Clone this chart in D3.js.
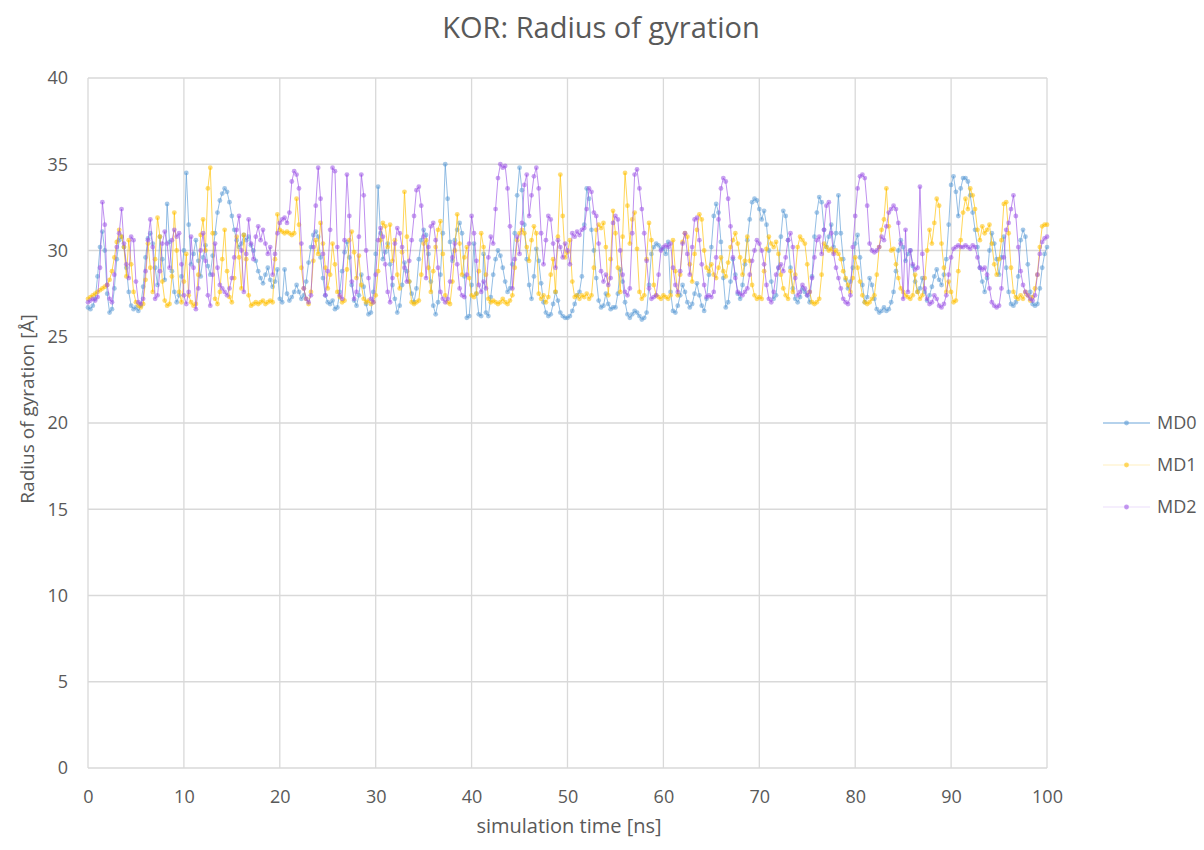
<!DOCTYPE html>
<html>
<head>
<meta charset="utf-8">
<script src="https://cdn.jsdelivr.net/npm/d3@7"></script>
<style>
  body { margin: 0; background: #fff; }
  svg { display: block; font-family: "Open Sans", "Noto Sans", sans-serif; }
</style>
</head>
<body>
<div id="chart"></div>
<script>
// Radius of gyration samples, one every 0.25 ns from 0 to 100 ns
const timeStep = 0.25;

const md0 = [
  26.7, 26.6, 26.8, 27.2, 28.5, 30.2, 31.1, 30.0, 27.5, 26.4, 26.6, 27.8, 29.5, 30.6, 30.8, 30.2, 29.0, 27.6, 26.8, 26.6,
  26.7, 26.5, 26.8, 27.9, 29.6, 30.7, 31.0, 30.4, 29.0, 28.0, 30.8, 29.5, 28.3, 32.7, 30.5, 28.8, 27.6, 27.0, 27.4, 28.5,
  30.0, 34.5, 31.5, 29.2, 29.8, 30.6, 29.4, 28.5, 29.6, 30.3, 29.1, 28.6, 29.7, 31.0, 32.2, 32.9, 33.3, 33.6, 33.4, 32.8,
  32.0, 31.2, 30.6, 30.2, 30.4, 30.9, 30.6, 30.8, 30.3, 30.0, 29.4, 28.8, 28.4, 28.1, 28.6, 29.0, 28.3, 27.9, 28.2, 28.9,
  27.2, 27.0, 28.9, 27.5, 27.1, 27.3, 27.6, 28.0, 27.6, 27.2, 27.4, 28.2, 29.3, 30.2, 30.9, 31.1, 30.8, 29.6, 28.4, 27.4,
  27.0, 26.9, 27.1, 26.6, 26.7, 27.6, 28.8, 29.9, 30.5, 29.6, 28.0, 27.1, 26.8, 27.4, 28.6, 27.9, 26.9, 26.3, 26.4, 27.6,
  29.8, 33.7, 31.0, 29.5, 29.9, 30.4, 29.2, 28.0, 27.2, 26.4, 26.8, 28.0, 29.3, 28.8, 28.2, 27.5, 27.0, 27.8, 29.5, 30.6,
  31.2, 30.9, 29.8, 28.2, 26.8, 26.3, 27.0, 28.6, 31.0, 35.0, 33.0, 30.5, 29.4, 30.6, 31.2, 31.6, 31.0, 28.5, 26.1, 26.2,
  28.0, 30.4, 27.5, 26.3, 26.2, 29.8, 26.4, 26.2, 27.3, 28.6, 29.5, 30.0, 29.7, 29.0, 28.2, 27.6, 27.8, 29.2, 31.0, 33.2,
  34.8, 33.5, 31.5, 29.5, 28.0, 27.2, 28.5, 30.1, 29.4, 28.1, 27.0, 26.4, 26.2, 26.3, 26.9, 27.6, 27.1, 26.4, 26.2, 26.1,
  26.1, 26.2, 26.5, 26.9, 27.4, 27.6, 28.5, 31.5, 33.6, 33.0, 31.2, 30.0, 28.4, 27.1, 26.7, 26.8, 27.5, 26.9, 26.6, 26.7,
  26.7, 27.5, 28.9, 28.2, 27.0, 26.3, 26.1, 26.3, 26.5, 26.4, 26.2, 26.0, 26.1, 26.4, 28.0, 29.8, 30.2, 30.4, 30.3, 30.1,
  30.1, 29.8, 30.5, 27.6, 26.5, 26.4, 26.8, 27.4, 28.0, 27.6, 27.0, 26.7, 26.9, 27.5, 28.1, 27.4, 26.8, 26.5, 27.2, 28.6,
  30.2, 32.0, 32.7, 32.2, 30.5, 28.4, 26.7, 27.0, 28.2, 29.5, 28.6, 27.5, 27.2, 28.0, 29.2, 30.6, 31.8, 32.8, 33.0, 32.9,
  32.4, 31.8, 32.3, 31.5, 30.0, 28.2, 27.2, 27.4, 29.0, 30.8, 32.3, 32.0, 30.6, 29.0, 27.8, 27.2, 27.0, 27.3, 27.8, 27.6,
  27.4, 27.0, 28.5, 30.8, 32.2, 33.1, 32.8, 31.2, 30.2, 30.8, 31.5, 30.2, 31.0, 33.2, 31.0, 29.5, 28.3, 27.8, 28.2, 29.0,
  30.4, 30.9, 29.6, 28.0, 27.0, 27.3, 28.4, 28.0, 27.2, 26.6, 26.4, 26.5, 26.7, 26.5, 26.6, 27.0, 27.6, 28.8, 30.0, 30.6,
  30.2, 29.4, 29.8, 30.0, 29.1, 28.2, 27.6, 27.8, 28.4, 27.6, 27.1, 27.4, 27.9, 28.5, 28.9, 28.3, 28.0, 28.6, 29.5, 31.5,
  33.8, 34.3, 33.4, 32.0, 33.6, 34.2, 34.2, 34.0, 33.2, 32.2, 31.2, 30.2, 29.0, 28.2, 27.6, 28.4, 30.0, 31.0, 30.4, 29.5,
  28.6, 29.6, 30.8, 29.0, 27.6, 26.9, 26.8, 27.0, 28.5, 30.6, 31.2, 30.8, 29.2, 27.6, 26.9, 26.8, 26.9, 27.8, 29.0, 29.8,
  30.2
];

const md1 = [
  27.2, 27.3, 27.4, 27.5, 27.6, 27.7, 27.8, 27.9, 28.0, 28.3, 28.8, 29.6, 30.5, 31.2, 30.8, 30.2, 28.5, 30.6, 29.2, 27.6,
  27.0, 26.8, 26.7, 26.9, 28.3, 30.4, 29.0, 27.6, 29.5, 31.9, 30.8, 28.2, 27.1, 26.8, 26.9, 28.5, 32.2, 30.0, 27.6, 27.0,
  28.2, 29.8, 27.4, 27.0, 26.8, 26.9, 28.6, 30.9, 31.8, 30.0, 33.6, 34.8, 31.0, 27.2, 26.9, 27.6, 29.5, 31.2, 28.8, 27.3,
  27.0, 28.4, 30.8, 29.6, 27.8, 30.9, 29.5, 27.4, 26.8, 26.9, 27.0, 26.9, 27.0, 27.1, 26.9, 27.0, 27.1, 27.0, 29.5, 32.1,
  31.2, 31.1, 31.0, 31.1, 31.0, 30.9, 31.0, 33.0, 31.5, 29.0, 27.8, 27.2, 26.9, 27.6, 29.4, 30.6, 29.8, 31.6, 30.4, 29.0,
  27.8, 28.6, 30.4, 29.2, 27.6, 27.3, 27.0, 27.1, 28.9, 30.6, 31.1, 29.9, 28.4, 29.7, 28.0, 27.2, 27.0, 27.1, 26.9, 27.0,
  27.4, 28.8, 30.6, 31.6, 31.4, 30.2, 31.5, 29.4, 30.6, 28.6, 27.8, 29.9, 33.4, 30.8, 28.2, 27.0, 26.9, 27.0, 27.1, 28.6,
  30.4, 30.6, 29.0, 27.6, 28.8, 30.2, 31.2, 31.7, 29.8, 27.4, 27.0, 26.9, 28.2, 30.0, 32.1, 30.4, 28.6, 29.6, 30.2, 28.4,
  27.4, 27.3, 27.5, 28.8, 31.0, 30.2, 28.6, 27.2, 27.0, 27.1, 27.0, 26.9, 27.0, 27.2, 27.0, 26.9, 27.1, 27.4, 29.0, 30.6,
  31.0, 31.2, 31.0, 30.2, 29.4, 30.6, 31.4, 31.0, 27.5, 27.2, 27.4, 27.0, 27.3, 28.6, 29.5, 27.6, 30.8, 34.4, 32.0, 29.6,
  29.9, 30.6, 28.2, 27.3, 27.4, 27.2, 27.4, 27.3, 27.5, 27.2, 27.4, 29.0, 31.2, 31.5, 31.3, 31.6, 30.2, 27.4, 29.5, 32.3,
  31.0, 29.0, 27.6, 30.8, 34.5, 32.6, 30.4, 31.8, 32.2, 30.1, 27.6, 27.2, 27.4, 29.5, 31.6, 30.6, 28.0, 27.4, 27.3, 27.2,
  27.4, 27.3, 27.2, 27.4, 30.6, 28.8, 27.4, 28.6, 30.5, 31.0, 30.8, 29.2, 28.2, 29.8, 31.2, 32.1, 31.8, 30.0, 29.0, 28.8,
  29.2, 28.6, 28.4, 29.0, 29.6, 28.8, 28.5, 29.3, 30.2, 30.6, 31.0, 30.4, 29.6, 28.6, 29.4, 30.8, 29.4, 28.0, 27.4, 27.2,
  27.3, 27.2, 28.8, 30.1, 30.8, 30.4, 30.2, 30.5, 29.8, 28.6, 27.8, 27.4, 27.2, 28.8, 27.6, 28.6, 30.2, 30.8, 30.6, 30.4,
  29.2, 27.6, 27.0, 26.9, 27.0, 27.2, 28.6, 30.4, 30.2, 30.0, 30.1, 29.9, 30.0, 29.8, 29.5, 28.8, 28.4, 28.0, 27.6, 28.4,
  29.6, 29.0, 28.2, 27.4, 27.0, 26.9, 27.0, 27.2, 27.4, 28.6, 30.2, 31.2, 31.8, 33.6, 31.4, 30.0, 30.1, 29.2, 28.4, 27.8,
  27.6, 27.4, 27.3, 27.2, 27.4, 28.6, 27.6, 27.2, 27.4, 28.4, 30.0, 31.2, 30.4, 31.6, 33.0, 32.6, 30.4, 29.0, 27.6, 28.2,
  27.6, 27.0, 27.1, 28.8, 30.6, 32.2, 33.0, 32.4, 33.6, 33.2, 32.4, 31.2, 30.6, 31.4, 31.0, 31.2, 31.5, 30.4, 29.2, 28.6,
  29.5, 30.6, 32.7, 32.8, 31.0, 29.0, 27.6, 27.3, 27.2, 27.4, 27.2, 27.6, 27.4, 27.1, 27.3, 27.8, 28.6, 30.2, 31.4, 31.5,
  31.5
];

const md2 = [
  27.0, 27.1, 27.2, 27.1, 27.3, 29.0, 32.8, 31.5, 28.0, 27.2, 27.0, 28.6, 30.2, 31.0, 32.4, 30.4, 29.2, 28.4, 30.8, 30.6,
  28.2, 27.0, 26.9, 27.2, 28.8, 30.6, 31.8, 30.2, 27.2, 27.4, 28.8, 30.4, 31.1, 30.4, 29.0, 30.6, 31.2, 30.8, 31.0, 29.2,
  27.4, 26.9, 27.6, 30.8, 29.0, 26.6, 27.8, 30.0, 31.0, 29.4, 27.4, 26.8, 28.6, 30.4, 29.0, 28.0, 27.8, 27.6, 27.4, 27.8,
  28.4, 29.6, 31.2, 32.0, 30.0, 27.6, 29.8, 31.8, 30.4, 29.5, 30.8, 31.4, 30.6, 31.2, 30.4, 29.8, 30.2, 28.6, 29.8, 31.0,
  31.6, 31.8, 31.9, 31.6, 32.2, 34.0, 34.6, 34.4, 33.6, 30.4, 27.8, 27.2, 27.0, 27.4, 30.2, 32.6, 34.8, 33.0, 29.8, 27.4,
  28.8, 31.2, 34.8, 34.6, 30.2, 27.4, 27.2, 30.6, 34.4, 32.0, 28.2, 27.2, 27.6, 30.8, 34.4, 33.2, 30.0, 28.4, 27.2, 27.0,
  28.6, 30.6, 31.3, 30.8, 29.2, 27.6, 27.0, 28.4, 30.4, 31.3, 31.0, 30.2, 29.0, 28.2, 29.4, 30.6, 32.0, 33.5, 33.7, 32.6,
  30.8, 28.4, 30.2, 31.4, 31.6, 30.6, 29.0, 27.6, 27.2, 27.0, 27.2, 28.2, 29.6, 30.4, 29.2, 27.8, 27.4, 27.3, 28.6, 30.4,
  32.0, 31.0, 29.4, 28.0, 27.6, 28.2, 27.8, 29.6, 30.8, 30.4, 32.4, 34.2, 35.0, 34.8, 34.9, 33.6, 31.4, 27.8, 29.5, 30.8,
  29.8, 31.6, 33.8, 34.4, 32.0, 33.2, 34.3, 34.8, 33.6, 31.0, 29.2, 30.6, 32.0, 31.8, 30.4, 29.0, 30.6, 30.2, 29.6, 30.4,
  30.0, 29.2, 31.0, 30.8, 31.1, 30.9, 31.2, 31.3, 32.4, 33.6, 33.4, 32.2, 32.0, 30.4, 28.8, 28.2, 28.6, 28.0, 28.4, 31.6,
  32.0, 31.8, 30.0, 28.6, 27.6, 27.4, 27.8, 31.0, 34.4, 34.7, 33.6, 32.4, 31.0, 29.4, 27.8, 27.2, 27.3, 27.4, 28.6, 30.0,
  30.2, 30.3, 30.2, 30.4, 29.0, 28.0, 27.6, 28.8, 30.4, 31.0, 29.8, 28.6, 30.2, 31.8, 31.9, 30.6, 29.2, 28.0, 27.3, 27.4,
  27.3, 27.6, 29.6, 31.8, 33.6, 34.2, 34.0, 33.0, 31.4, 29.6, 28.4, 27.6, 27.5, 27.4, 27.6, 27.8, 28.6, 29.4, 30.0, 30.6,
  30.4, 30.0, 29.2, 28.0, 27.2, 27.0, 27.6, 28.6, 29.0, 29.2, 28.8, 29.6, 30.6, 31.0, 30.2, 28.4, 27.4, 27.6, 28.0, 27.8,
  27.4, 27.6, 28.4, 29.6, 30.6, 30.8, 29.8, 31.2, 32.6, 32.8, 31.0, 29.8, 29.0, 28.4, 27.8, 27.2, 27.0, 26.9, 27.4, 30.2,
  32.0, 33.6, 34.3, 34.4, 34.2, 32.6, 30.4, 30.0, 29.9, 30.0, 30.2, 30.8, 30.6, 31.4, 32.2, 32.4, 32.6, 32.4, 31.6, 30.4,
  27.2, 31.2, 27.6, 30.0, 29.2, 28.9, 29.0, 33.7, 29.8, 27.8, 27.2, 26.9, 27.0, 27.4, 27.2, 26.8, 26.7, 26.9, 27.4, 28.6,
  29.6, 30.1, 30.2, 30.3, 30.2, 30.2, 30.3, 30.2, 30.1, 30.3, 30.2, 29.6, 29.0, 28.9, 29.0, 28.6, 27.8, 27.0, 26.8, 26.7,
  26.8, 27.8, 29.6, 31.2, 31.6, 32.4, 33.2, 32.0, 30.2, 28.8, 28.0, 27.6, 27.4, 27.2, 27.1, 27.4, 28.6, 29.8, 30.5, 30.7,
  30.8
];

const seriesNames = ['MD0', 'MD1', 'MD2'];
const seriesColors = ['#5B9BD5', '#FFC000', '#9C55E6'];
const xTicks = [0, 10, 20, 30, 40, 50, 60, 70, 80, 90, 100];
const yTicks = [0, 5, 10, 15, 20, 25, 30, 35, 40];

const width = 1204, height = 850;
const margin = { left: 88, right: 157, top: 78, bottom: 82 };
const textColor = '#595959';
const gridColor = '#D9D9D9';

const svg = d3.select('#chart').append('svg')
  .attr('width', width)
  .attr('height', height);

const x = d3.scaleLinear().domain([0, 100]).range([margin.left, width - margin.right]);
const y = d3.scaleLinear().domain([0, 40]).range([height - margin.bottom, margin.top]);

// --- Gridlines ---
svg.append('g')
  .selectAll('line.h')
  .data(yTicks)
  .enter().append('line')
  .attr('x1', x(0)).attr('x2', x(100))
  .attr('y1', d => y(d)).attr('y2', d => y(d))
  .attr('stroke', gridColor).attr('stroke-width', 1.3);

svg.append('g')
  .selectAll('line.v')
  .data(xTicks)
  .enter().append('line')
  .attr('x1', d => x(d)).attr('x2', d => x(d))
  .attr('y1', y(0)).attr('y2', y(40))
  .attr('stroke', gridColor).attr('stroke-width', 1.3);

// --- Axes (labels only) ---
const xAxis = svg.append('g')
  .attr('transform', `translate(0, ${y(0)})`)
  .call(d3.axisBottom(x).tickValues(xTicks).tickSize(0).tickPadding(22));
const yAxis = svg.append('g')
  .attr('transform', `translate(${x(0)}, 0)`)
  .call(d3.axisLeft(y).tickValues(yTicks).tickSize(0).tickPadding(20));

[xAxis, yAxis].forEach(ax => {
  ax.select('.domain').remove();
  ax.selectAll('text')
    .attr('fill', textColor)
    .style('font-size', '18px')
    .style('font-family', '"Open Sans", "Noto Sans", sans-serif');
});

// --- Series ---
const allSeries = [md0, md1, md2].map((vals, si) => ({
  name: seriesNames[si],
  color: seriesColors[si],
  points: vals.map((v, i) => ({ t: i * timeStep, v }))
}));

const line = d3.line().x(d => x(d.t)).y(d => y(d.v));

allSeries.forEach(s => {
  const g = svg.append('g');
  g.append('path')
    .datum(s.points)
    .attr('d', line)
    .attr('fill', 'none')
    .attr('stroke', s.color)
    .attr('stroke-width', 1)
    .attr('stroke-opacity', 0.65);
  g.selectAll('circle')
    .data(s.points)
    .enter().append('circle')
    .attr('cx', d => x(d.t))
    .attr('cy', d => y(d.v))
    .attr('r', 2.4)
    .attr('fill', s.color)
    .attr('fill-opacity', 0.55);
});

// --- Titles ---
svg.append('text')
  .attr('x', 601).attr('y', 38)
  .attr('text-anchor', 'middle')
  .attr('fill', textColor)
  .style('font-size', '29px')
  .text('KOR: Radius of gyration');

svg.append('text')
  .attr('x', 569).attr('y', 833)
  .attr('text-anchor', 'middle')
  .attr('fill', textColor)
  .style('font-size', '20px')
  .text('simulation time [ns]');

svg.append('text')
  .attr('transform', 'translate(34, 409) rotate(-90)')
  .attr('text-anchor', 'middle')
  .attr('fill', textColor)
  .style('font-size', '19px')
  .text('Radius of gyration [Å]');

// --- Legend ---
const legendLineOpacity = [0.9, 0.25, 0.2];
const legend = svg.append('g')
  .selectAll('g')
  .data(allSeries)
  .enter().append('g')
  .attr('transform', (d, i) => `translate(1103, ${423 + i * 42})`);

legend.append('line')
  .attr('x1', 0).attr('x2', 47)
  .attr('stroke', d => d.color)
  .attr('stroke-opacity', (d, i) => legendLineOpacity[i])
  .attr('stroke-width', 1);

legend.append('circle')
  .attr('cx', 23.5).attr('r', 2.4)
  .attr('fill', d => d.color)
  .attr('fill-opacity', 0.6);

legend.append('text')
  .attr('x', 54).attr('dy', '0.35em')
  .attr('fill', textColor)
  .style('font-size', '18px')
  .text(d => d.name);
</script>
</body>
</html>
